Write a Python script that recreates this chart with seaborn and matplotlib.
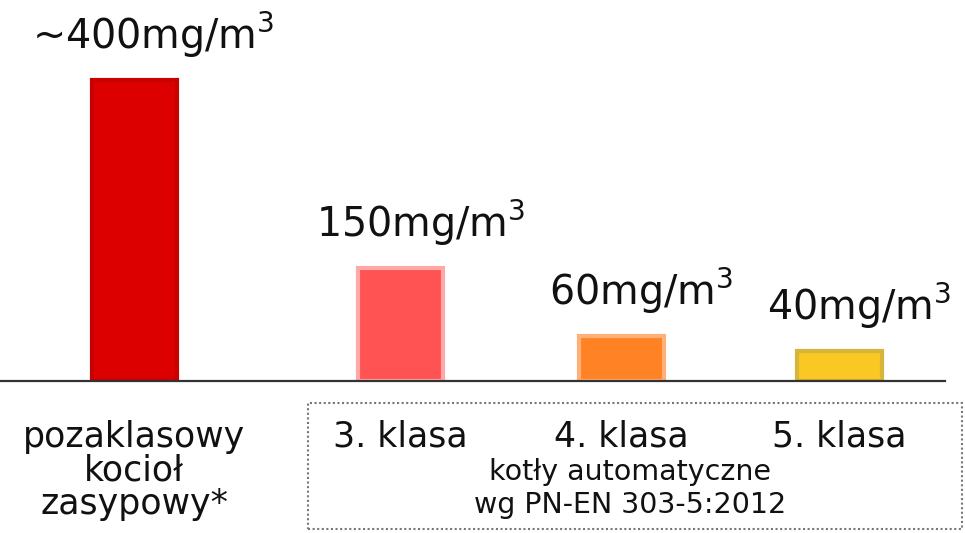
import matplotlib
matplotlib.use("Agg")
import matplotlib.pyplot as plt
from matplotlib.patches import Rectangle
import seaborn as sns
import pandas as pd

# Dust emission limits for solid-fuel boilers
categories = ["pozaklasowy\nkocioł\nzasypowy*", "3. klasa", "4. klasa", "5. klasa"]
emission = [400, 150, 60, 40]
value_labels = [r"~400mg/m$^3$", r"150mg/m$^3$", r"60mg/m$^3$", r"40mg/m$^3$"]
group_label = ["kotły automatyczne", "wg PN-EN 303-5:2012"]

# Layout / style (not data)
slots = [0.0, 1.21, 2.21, 3.20]
fills = ["#DC0000", "#FF5252", "#FF8224", "#F9C823"]
edges = ["#C80000", "#FFA8A8", "#FFB078", "#D8B43A"]

sns.set_theme(style="white")
plt.rcParams["font.family"] = ["DejaVu Sans"]
plt.rcParams["mathtext.fontset"] = "dejavusans"
plt.rcParams["mathtext.default"] = "regular"

df = pd.DataFrame({"slot": slots, "emission": emission, "name": categories})

fig = plt.figure(figsize=(9.65, 5.33), dpi=100)
ax = fig.add_axes([0.0, 1 - 381 / 533, 945 / 965, 381 / 533])

sns.barplot(data=df, x="slot", y="emission", hue="name", palette=fills,
            native_scale=True, width=0.39, legend=False, ax=ax, saturation=1)

for patch, ec in zip(ax.patches, edges):
    patch.set_edgecolor(ec)
    patch.set_linewidth(3)

ax.set_xlim(-0.609, 3.68)
ax.set_ylim(0, 506)

for x, v, lab in zip(slots, emission, value_labels):
    ax.annotate(lab, (x, v), xytext=(14, 22), textcoords="offset points",
                ha="center", va="baseline", fontsize=28.5, color="#111111")

ax.set_xticks(slots)
ax.set_xticklabels(categories, fontsize=25, color="#111111",
                   linespacing=0.98, va="top")
ax.tick_params(axis="x", length=0, pad=28)
ax.set_yticks([])
ax.set_xlabel("")
ax.set_ylabel("")
for side in ["top", "left", "right"]:
    ax.spines[side].set_visible(False)
ax.spines["bottom"].set_color("#333333")
ax.spines["bottom"].set_linewidth(1.6)

# Group caption for the automatic boilers
fig.text(630 / 965, 1 - 472 / 533, group_label[0], ha="center", va="center",
         fontsize=20.5, color="#111111")
fig.text(630 / 965, 1 - 505 / 533, group_label[1], ha="center", va="center",
         fontsize=20.5, color="#111111")
fig.patches.append(Rectangle((308 / 965, 1 - 529 / 533), 654 / 965, 126 / 533,
                             transform=fig.transFigure, fill=False,
                             edgecolor="#777777", linestyle=(0, (1, 1.2)),
                             linewidth=1.5))

fig.savefig("out.png", dpi=100)
